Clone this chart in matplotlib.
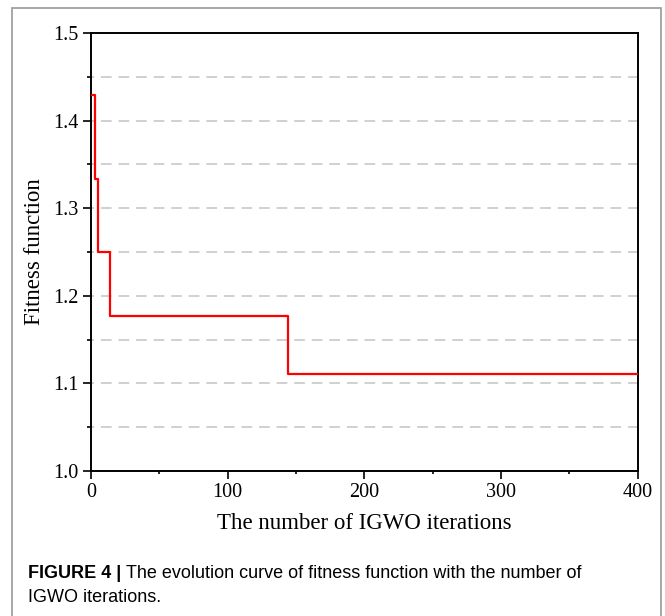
#!/usr/bin/env python3
"""
IGWO 迭代过程中适应度函数的变化曲线
"""

import matplotlib
matplotlib.use("Agg")
import matplotlib.pyplot as plt
from matplotlib.ticker import MultipleLocator, FormatStrFormatter
from matplotlib.patches import Rectangle

# 数据
iterations = [1, 3, 5, 14, 144, 400]
fitness = [1.429, 1.333, 1.250, 1.177, 1.111, 1.111]

x_label = "The number of IGWO iterations"
y_label = "Fitness function"
caption_bold = "FIGURE 4 | "
caption_line1 = "The evolution curve of fitness function with the number of"
caption_line2 = "IGWO iterations."

plt.rcParams['font.family'] = ['Liberation Serif', 'DejaVu Serif']

fig = plt.figure(figsize=(6.65, 6.16), dpi=100)
ax = fig.add_axes([0.1365, 0.2354, 0.8225, 0.711])

ax.plot(iterations, fitness, drawstyle='steps-post', color='#ff0000', lw=1.6, zorder=3)

ax.set_xlim(0, 400)
ax.set_ylim(1.0, 1.5)
ax.xaxis.set_major_locator(MultipleLocator(100))
ax.xaxis.set_minor_locator(MultipleLocator(50))
ax.yaxis.set_major_locator(MultipleLocator(0.1))
ax.yaxis.set_minor_locator(MultipleLocator(0.05))
ax.yaxis.set_major_formatter(FormatStrFormatter('%.1f'))

# 灰色虚线网格
ax.grid(which='both', axis='y', color='#c4c4c4', lw=1.1, linestyle=(5, (7, 4.5)))
ax.set_axisbelow(True)

for s in ax.spines.values():
    s.set_linewidth(1.4)
    s.set_color('black')

ax.tick_params(which='major', direction='out', length=6, width=1.2, labelsize=14.5, pad=3)
ax.tick_params(which='minor', direction='out', length=2.5, width=1.2)
ax.tick_params(axis='y', which='minor', length=3)

ax.set_xlabel(x_label, fontsize=16.5, labelpad=7.5)
ax.set_ylabel(y_label, fontsize=16.5, labelpad=6)

# 外框
fig.patches.append(Rectangle((12 / 665, -0.05), (661 - 12) / 665, 1 - 8 / 616 + 0.05,
                             transform=fig.transFigure, fill=False,
                             edgecolor='#a0a0a0', lw=1.3))

# 图注
cap_font = ['Liberation Sans', 'DejaVu Sans']
cap_size = 13
t = fig.text(28 / 665, 1 - 573 / 616, caption_bold, fontsize=cap_size, fontweight='bold',
             family=cap_font, va='center', ha='left')
fig.canvas.draw()
bb = t.get_window_extent(renderer=fig.canvas.get_renderer())
x_next = bb.x1 / fig.bbox.width
fig.text(x_next, 1 - 573 / 616, caption_line1, fontsize=cap_size, family=cap_font,
         va='center', ha='left')
fig.text(28 / 665, 1 - 597 / 616, caption_line2, fontsize=cap_size, family=cap_font,
         va='center', ha='left')

fig.savefig('out.png', dpi=100)
